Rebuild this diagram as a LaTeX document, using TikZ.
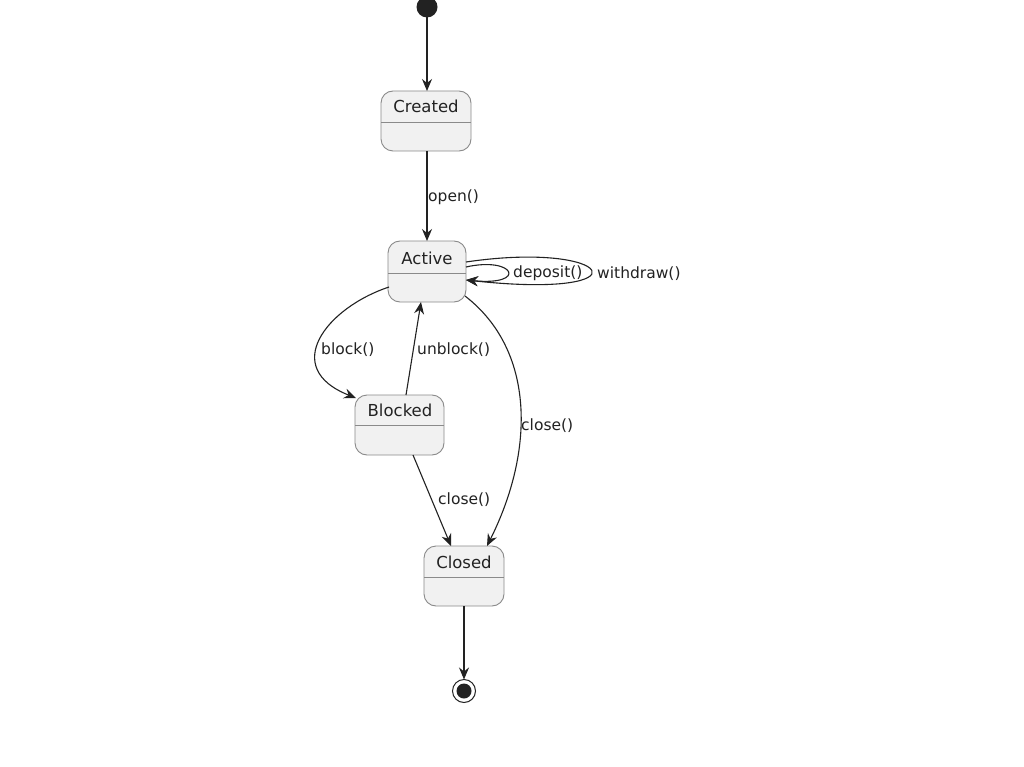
\documentclass[tikz,border=0pt]{standalone}
\usepackage{fontspec}
\setmainfont{DejaVu Sans}
\usetikzlibrary{arrows.meta}
\definecolor{stfill}{HTML}{F1F1F1}
\definecolor{stline}{HTML}{8A8A8A}
\definecolor{ink}{HTML}{222222}
\tikzset{
  stbox/.style={draw=stline, fill=stfill, rounded corners=12pt, line width=0.9pt},
  stname/.style={font=\fontsize{16.5}{18}\selectfont, text=ink, inner sep=0pt},
  tr/.style={draw=ink, line width=1.1pt, -{Stealth[length=12pt,width=10pt,inset=4pt]}},
  lbl/.style={font=\fontsize{15.5}{17}\selectfont, text=ink, inner sep=0pt, anchor=west},
}
\newcommand{\statebox}[6]{% name, x1, y1, x2, y2, divider y
  \draw[stbox] (#2,#3) rectangle (#4,#5);
  \draw[stline, line width=0.9pt] (#2,#6) -- (#4,#6);
}
\begin{document}
\begin{tikzpicture}[x=1pt,y=-1pt]
\useasboundingbox (0,0) rectangle (1024,767);
\fill[white] (0,0) rectangle (1024,767);

% initial
\fill[ink] (427,7) circle (10.5);
\coordinate (init) at (427,17);

% Created
\statebox{Created}{381}{91}{471}{151}{122}
\node[stname] (created) at (426,106) {Created};
\coordinate (createdT) at (427,91);
\coordinate (createdB) at (427,151);

% Active
\statebox{Active}{388}{241}{466}{302}{273}
\node[stname] (active) at (427,258) {Active};
\coordinate (activeT) at (427,241);

% Blocked
\statebox{Blocked}{355}{395}{444}{455}{425}
\node[stname] (blocked) at (400,410) {Blocked};

% Closed
\statebox{Closed}{424}{546}{504}{606}{577}
\node[stname] (closed) at (464,562) {Closed};

% final
\draw[ink, line width=1pt, fill=white] (464,691) circle (11.5);
\fill[ink] (464,691) circle (7.5);
\coordinate (final) at (464,679.5);

% transitions
\draw[tr] (init) -- (createdT);
\draw[tr] (createdB) -- (activeT);
\node[lbl] (lopen) at (428,197.5) {open()};

% self loops
\coordinate (aR1) at (466,262);
\coordinate (aR2) at (466,267);
\coordinate (aIn) at (466,280);
\draw[tr] (aR1) .. controls (615,240) and (650,300) .. (aIn);
\draw[tr] (aR2) .. controls (515,256) and (528,286) .. (aIn);
\node[lbl] (ldep) at (513,273.5) {deposit()};
\node[lbl] (lwd) at (597,273.5) {withdraw()};

% block
\coordinate (aL) at (389,287);
\coordinate (bTL) at (356,398);
\draw[tr] (aL) .. controls (326,308) and (280,368) .. (bTL);
\node[lbl] (lblock) at (321,349.5) {block()};

% unblock
\coordinate (bT) at (406,395);
\coordinate (aB) at (421,302);
\draw[tr] (bT) -- (aB);
\node[lbl] (lunblock) at (417,349.5) {unblock()};

% close from active
\coordinate (aBR) at (465,296);
\coordinate (cT2) at (487,546);
\draw[tr] (aBR) .. controls (535,350) and (535,450) .. (cT2);
\node[lbl] (lclose1) at (521,425.5) {close()};

% close from blocked
\coordinate (bB) at (413,455);
\coordinate (cT1) at (451,546);
\draw[tr] (bB) -- (cT1);
\node[lbl] (lclose2) at (438,499.5) {close()};

% to final
\coordinate (cB) at (464,606);
\draw[tr] (cB) -- (final);
\end{tikzpicture}
\end{document}
